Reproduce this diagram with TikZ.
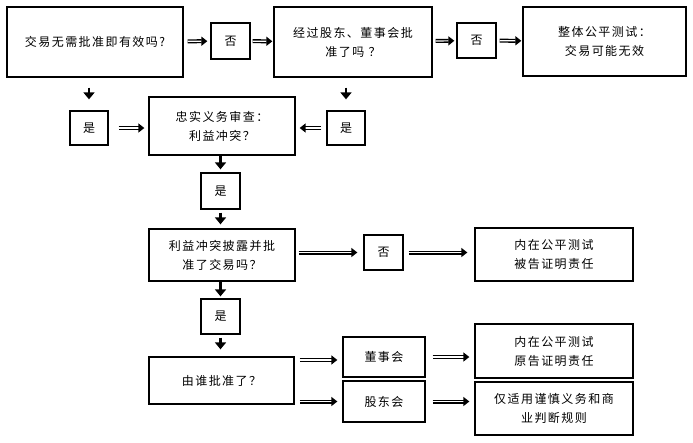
\documentclass[tikz,border=0pt]{standalone}
\usepackage{fontspec}
\setmainfont{Noto Sans CJK SC}[LetterSpace=12]
\usepackage{tikz}
\usetikzlibrary{arrows.meta,calc}

\begin{document}
\begin{tikzpicture}[x=1pt,y=-1pt,
    font=\fontsize{12}{19}\selectfont,
    box/.style={draw,line width=1.3pt,align=center,inner sep=0pt},
    dbl/.style={double,line width=1.4pt,double distance=1.2pt,-{Triangle[length=6pt,width=9pt]}},
    down/.style={line width=2.6pt,-{Triangle[length=7pt,width=11pt]}}]
      \useasboundingbox (0,0) rectangle (693,442);
      % first row
      \node[box,minimum width=176pt,minimum height=70pt] (ask) at (95,42) {交易无需批准即有效吗?};
      \node[box,minimum width=39pt,minimum height=36pt] (noa) at (230.5,41) {否};
      \node[box,minimum width=158pt,minimum height=70pt] (approve) at (353,42) {经过股东、董事会批\\准了吗 ？};
      \node[box,minimum width=39pt,minimum height=35pt] (nob) at (476.5,40.5) {否};
      \node[box,minimum width=163pt,minimum height=69pt] (fair) at (604.5,41.5) {整体公平测试：\\交易可能无效};
      % loyalty review
      \node[box,minimum width=38pt,minimum height=34pt] (yesa) at (89,128) {是};
      \node[box,minimum width=146pt,minimum height=58pt] (loyal) at (222,126) {忠实义务审查：\\利益冲突？};
      \node[box,minimum width=38pt,minimum height=34pt] (yesb) at (346,128) {是};
      \node[box,minimum width=39pt,minimum height=36pt] (yesc) at (220.5,191) {是};
      % disclosure
      \node[box,minimum width=146pt,minimum height=52pt] (disc) at (222,255) {利益冲突披露并批\\准了交易吗？};
      \node[box,minimum width=39pt,minimum height=35pt] (noc) at (383.5,252.5) {否};
      \node[box,minimum width=158pt,minimum height=53pt] (defend) at (554,254.5) {内在公平测试\\被告证明责任};
      \node[box,minimum width=39pt,minimum height=35pt] (yesd) at (220.5,316.5) {是};
      % who approved
      \node[box,minimum width=145pt,minimum height=47pt] (who) at (221.5,380.5) {由谁批准了？};
      \node[box,minimum width=82pt,minimum height=40pt] (board) at (384,357) {董事会};
      \node[box,minimum width=82pt,minimum height=41pt] (share) at (384,401.5) {股东会};
      \node[box,minimum width=158pt,minimum height=54pt] (plain) at (554,351) {内在公平测试\\原告证明责任};
      \node[box,minimum width=158pt,minimum height=53pt] (bjr) at (554,408.5) {仅适用谨慎义务和商\\业判断规则};
      \coordinate (whotop) at ($(who.east)!0.85!(who.north east)$);
      % connectors
      \draw[dbl,shorten <=4pt,shorten >=3pt] (ask) -- (noa);
      \draw[dbl,shorten <=2pt,shorten >=1pt] (noa) -- (approve);
      \draw[dbl,shorten <=3pt,shorten >=2pt] (approve) -- (nob);
      \draw[dbl,shorten <=3pt,shorten >=1pt] (nob) -- (fair);
      \draw[down,shorten <=10pt,shorten >=11pt] (yesa.north |- ask.south) -- (yesa.north);
      \draw[down,shorten <=10pt,shorten >=11pt] (yesb.north |- approve.south) -- (yesb.north);
      \draw[dbl,shorten <=10pt,shorten >=4pt] (yesa.east) -- (yesa.east -| loyal.west);
      \draw[dbl,shorten <=5pt,shorten >=4pt] (yesb.west) -- (yesb.west -| loyal.east);
      \draw[down,shorten >=3pt] (yesc.north |- loyal.south) -- (yesc.north);
      \draw[down,shorten <=3pt,shorten >=4pt] (yesc) -- (yesc.south |- disc.north);
      \draw[dbl,shorten <=3pt,shorten >=6pt] (noc.west -| disc.east) -- (noc.west);
      \draw[dbl,shorten <=5pt,shorten >=7pt] (noc) -- (noc -| defend.west);
      \draw[down,shorten >=2pt] (yesd.north |- disc.south) -- (yesd.north);
      \draw[down,shorten <=3pt,shorten >=7pt] (yesd) -- (yesd.south |- who.north);
      \draw[dbl,shorten <=5pt,shorten >=5pt] (whotop) -- (whotop -| board.west);
      \draw[dbl,shorten <=5pt,shorten >=5pt] (share.west -| who.east) -- (share.west);
      \draw[dbl,shorten <=7pt,shorten >=5pt] (board) -- (board -| plain.west);
      \draw[dbl,shorten <=7pt,shorten >=5pt] (share) -- (share -| bjr.west);
\end{tikzpicture}
\end{document}
